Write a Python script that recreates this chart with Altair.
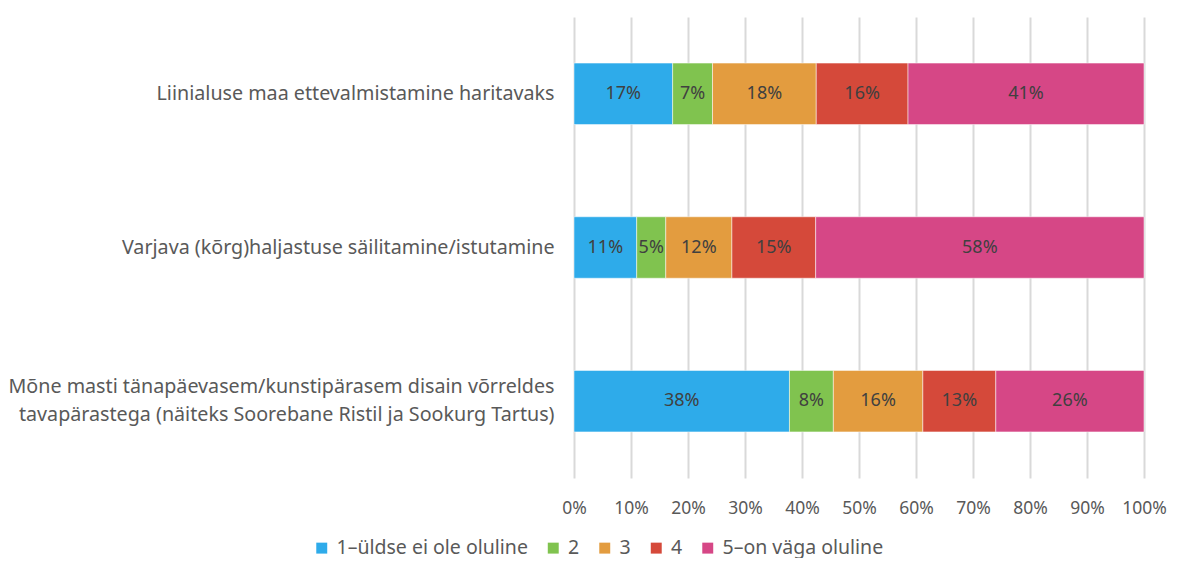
import altair as alt
import pandas as pd

categories = [
    "Liinialuse maa ettevalmistamine haritavaks",
    "Varjava (kõrg)haljastuse säilitamine/istutamine",
    "Mõne masti tänapäevasem/kunstipärasem disain võrreldes\ntavapärastega (näiteks Soorebane Ristil ja Sookurg Tartus)",
]
levels = ["1–üldse ei ole oluline", "2", "3", "4", "5–on väga oluline"]
colors = ["#2EABEA", "#80C34F", "#E39C3F", "#D5493A", "#D64786"]

# shares (%) per category, in level order
v_level1 = [17.3, 11.0, 37.8]
v_level2 = [7.0, 5.1, 7.7]
v_level3 = [18.2, 11.6, 15.7]
v_level4 = [16.1, 14.7, 12.8]
v_level5 = [41.4, 57.6, 26.0]

rows = []
for i, c in enumerate(categories):
    for j, (lvl, vals) in enumerate(zip(levels, [v_level1, v_level2, v_level3, v_level4, v_level5])):
        rows.append({"cat": c, "level": lvl, "order": j, "value": vals[i] / 100.0})
df = pd.DataFrame(rows)

FONT = "Noto Sans"

base = alt.Chart(df).encode(
    y=alt.Y("cat:N", sort=categories, title=None,
            scale=alt.Scale(paddingInner=0.6, paddingOuter=0.3),
            axis=alt.Axis(labelFont=FONT, labelFontSize=19.7, labelColor="#595959",
                          labelPadding=20, ticks=False, domain=False, labelLimit=800,
                          labelLineHeight=28,
                          labelOffset={"condition": {"test": "indexof(datum.label, 'Mõne') == 0", "value": -14}, "value": 0},
                          labelExpr="split(datum.label, '\\n')")),
)

bars = base.mark_bar(stroke="white", strokeWidth=0.5).encode(
    x=alt.X("value:Q", stack="zero", title=None,
            scale=alt.Scale(domain=[0, 1], nice=False),
            axis=alt.Axis(format=".0%", values=[i / 10 for i in range(11)],
                          labelFont=FONT, labelFontSize=17.5, labelColor="#595959",
                          labelOverlap=False, labelFlush=False,
                          labelPadding=21, ticks=False, domain=False,
                          grid=True, gridColor="#D9D9D9", gridWidth=2)),
    color=alt.Color("level:N", sort=levels,
                    scale=alt.Scale(domain=levels, range=colors),
                    legend=alt.Legend(title=None, orient="none", direction="horizontal",
                                      legendX=-262, legendY=521,
                                      symbolType="square", symbolSize=120, symbolStrokeWidth=0,
                                      labelFont=FONT, labelFontSize=19.5, labelColor="#595959",
                                      labelLimit=400,
                                      columnPadding=15.5, symbolOffset=0, labelOffset=5)),
    order=alt.Order("order:Q"),
)

labels = base.mark_text(font=FONT, fontSize=18, color="#404040").encode(
    x=alt.X("mid:Q"),
    text=alt.Text("value:Q", format=".0%"),
).transform_stack(
    stack="value", groupby=["cat"], sort=[alt.SortField("order")], as_=["v0", "v1"]
).transform_calculate(mid="(datum.v0 + datum.v1) / 2")

chart = alt.layer(bars, labels).properties(
    width=570, height=461,
    padding={"left": 0, "top": 9, "right": 0, "bottom": 0},
).configure_view(stroke=None)

chart.save("out.html", embed_options={"renderer": "svg", "actions": False})
